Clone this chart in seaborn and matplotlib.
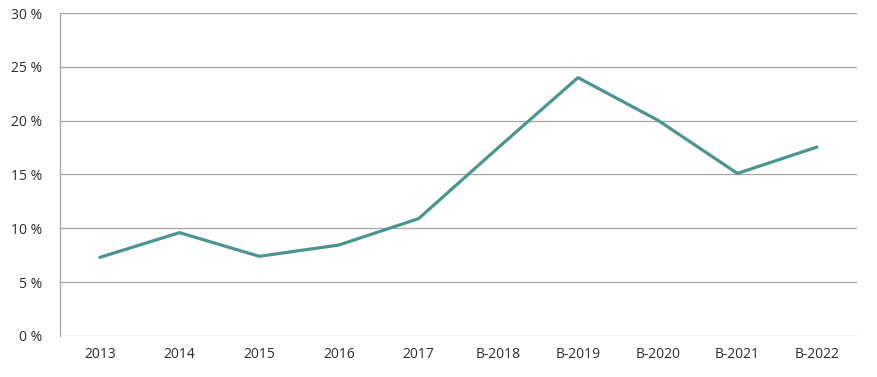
import matplotlib
matplotlib.use("Agg")
import matplotlib.pyplot as plt
import seaborn as sns
import pandas as pd

# Data
years = ["2013", "2014", "2015", "2016", "2017",
         "B-2018", "B-2019", "B-2020", "B-2021", "B-2022"]
share = [7.3, 9.6, 7.4, 8.45, 10.9, 17.5, 24.0, 20.05, 15.1, 17.55]
y_ticks = [0, 5, 10, 15, 20, 25, 30]

df = pd.DataFrame({"year": years, "share": share})

sns.set_style("white")
plt.rcParams["font.family"] = ["Open Sans", "DejaVu Sans"]

fig = plt.figure(figsize=(8.78, 3.77), dpi=100)
ax = fig.add_axes([0.0683, 0.1088, 0.9077, 0.8567])

sns.lineplot(data=df, x="year", y="share", sort=False, ax=ax,
             color="#4b9590", linewidth=2.3)

ax.set_xlim(-0.5, len(years) - 0.5)
ax.set_ylim(0, 30)
ax.set_yticks(y_ticks)
ax.set_yticklabels([f"{t} %" for t in y_ticks])
ax.yaxis.grid(True, color="#a6a6a6", linewidth=0.9)
ax.set_axisbelow(True)

for s in ["top", "right", "bottom"]:
    ax.spines[s].set_visible(False)
ax.spines["left"].set_color("#a6a6a6")
ax.spines["left"].set_linewidth(0.9)

ax.tick_params(axis="both", length=0, labelsize=10, colors="#2b2b2b")
ax.tick_params(axis="y", pad=13)
ax.tick_params(axis="x", pad=8)
ax.set_xlabel("")
ax.set_ylabel("")

fig.savefig("out.png", dpi=100)
